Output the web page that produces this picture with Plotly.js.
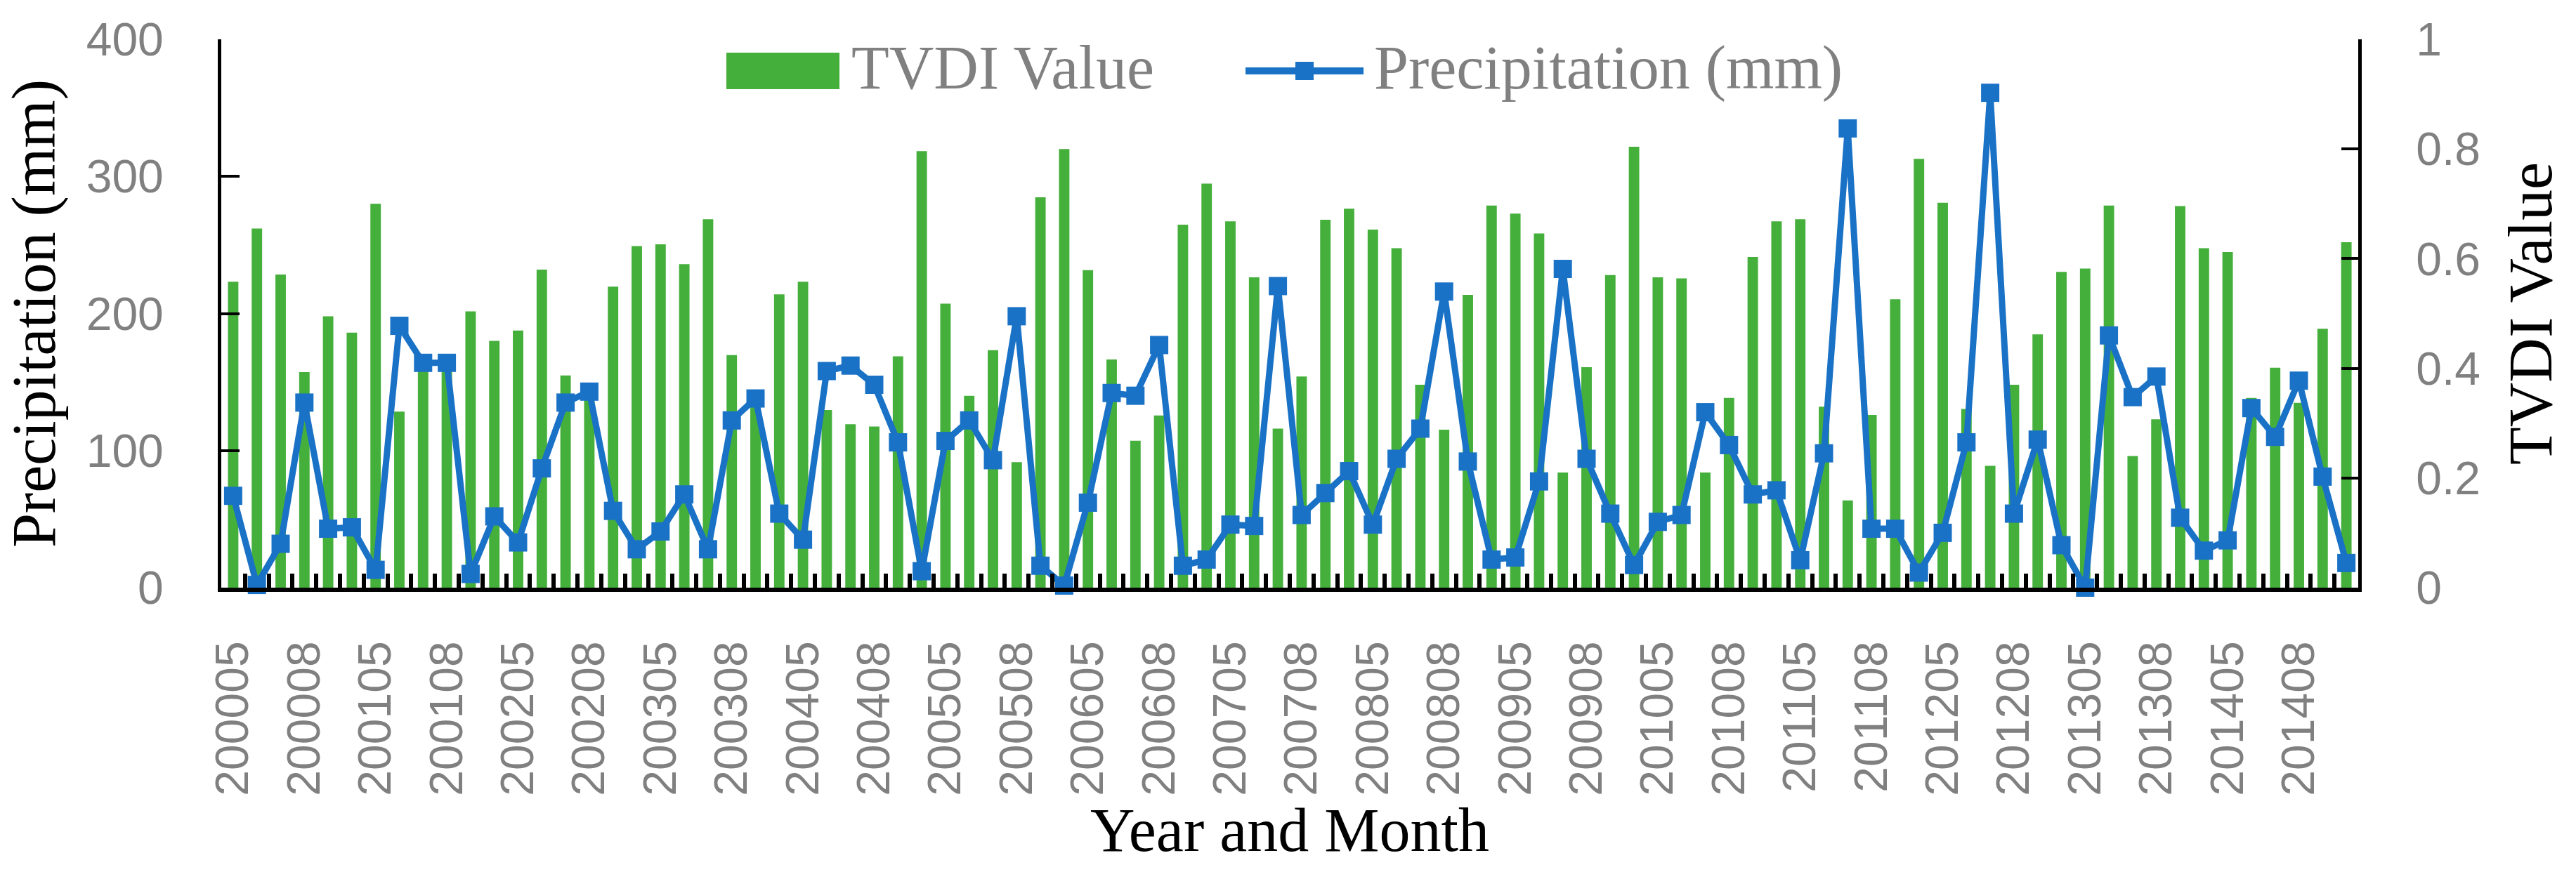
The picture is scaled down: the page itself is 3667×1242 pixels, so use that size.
<!DOCTYPE html>
<html>
<head>
<meta charset="utf-8">
<script src="https://cdn.plot.ly/plotly-3.0.1.min.js"></script>
<style>
html,body{margin:0;padding:0;background:#ffffff;}
#chart{width:3667px;height:1242px;}
</style>
</head>
<body>
<div id="chart"></div>
<script>
// ---- Data ----
const categories = [
  "200005","200006","200007","200008","200009","200010",
  "200105","200106","200107","200108","200109","200110",
  "200205","200206","200207","200208","200209","200210",
  "200305","200306","200307","200308","200309","200310",
  "200405","200406","200407","200408","200409","200410",
  "200505","200506","200507","200508","200509","200510",
  "200605","200606","200607","200608","200609","200610",
  "200705","200706","200707","200708","200709","200710",
  "200805","200806","200807","200808","200809","200810",
  "200905","200906","200907","200908","200909","200910",
  "201005","201006","201007","201008","201009","201010",
  "201105","201106","201107","201108","201109","201110",
  "201205","201206","201207","201208","201209","201210",
  "201305","201306","201307","201308","201309","201310",
  "201405","201406","201407","201408","201409","201410"
];

const tickLabels = [
  "200005","200008","200105","200108","200205","200208",
  "200305","200308","200405","200408","200505","200508",
  "200605","200608","200705","200708","200805","200808",
  "200905","200908","201005","201008","201105","201108",
  "201205","201208","201305","201308","201405","201408"
];

const tvdiValues = [
  0.558,0.655,0.571,0.393,0.495,0.465,
  0.700,0.321,0.410,0.410,0.504,0.450,
  0.469,0.580,0.387,0.360,0.549,0.623,
  0.626,0.590,0.672,0.424,0.345,0.535,
  0.558,0.324,0.298,0.294,0.422,0.796,
  0.518,0.350,0.433,0.229,0.712,0.800,
  0.579,0.416,0.268,0.314,0.662,0.737,
  0.668,0.566,0.290,0.385,0.671,0.691,
  0.653,0.619,0.370,0.288,0.534,0.697,
  0.682,0.646,0.210,0.402,0.570,0.804,
  0.566,0.564,0.210,0.346,0.603,0.668,
  0.672,0.330,0.159,0.315,0.526,0.782,
  0.702,0.326,0.222,0.370,0.462,0.576,
  0.582,0.697,0.240,0.307,0.696,0.619,
  0.612,0.346,0.401,0.337,0.472,0.630
];

const precipitation = [
  67,2,32,135,43,44,
  13,191,164,164,10,52,
  33,87,135,143,56,28,
  41,68,28,122,138,54,
  35,158,162,148,106,12,
  107,122,93,198,16,1.5,
  62,142,140,177,16,20.5,
  46,45,220,53,69,85,
  46,94,116,216,92,20.5,
  22,77.5,232.5,94,54,16.5,
  48,53,128,104,68,71,
  20,98,335,43,43,11,
  40,106,361,54,108,31,
  0,184,139,154,51,27,
  34.5,131,110,151,81,18
];

const precipTicks = [0,100,200,300,400];
const tvdiTicks = [0,0.2,0.4,0.6,0.8,1];
const tvdiTickText = ["0","0.2","0.4","0.6","0.8","1"];

// ---- Styling ----
const GREEN = "#45AF3B";
const BLUE = "#1A72C6";
const GRAY = "#808080";
const SANS = "Liberation Sans, Arial, sans-serif";
const SERIF = "Liberation Serif, Times New Roman, serif";

const W = 3667, H = 1242, ML = 315, MR = 310, MT = 56, MB = 405;
const PW = W - ML - MR, PH = H - MT - MB;
const px = x => (x - ML) / PW;
const py = y => (H - MB - y) / PH;

const xTickText = categories.map(c => tickLabels.includes(c) ? c : "");

const traces = [
  {
    type: "bar",
    name: "TVDI Value",
    x: categories,
    y: tvdiValues,
    yaxis: "y",
    marker: {color: GREEN, line: {width: 0}},
    hoverinfo: "x+y"
  },
  {
    type: "scatter",
    mode: "lines+markers",
    name: "Precipitation (mm)",
    x: categories,
    y: precipitation,
    yaxis: "y2",
    line: {color: BLUE, width: 9},
    marker: {symbol: "square", size: 26, color: BLUE, line: {width: 0}},
    cliponaxis: false
  }
];

const layout = {
  width: W,
  height: H,
  margin: {l: ML, r: MR, t: MT, b: MB, pad: 0},
  paper_bgcolor: "#ffffff",
  plot_bgcolor: "#ffffff",
  showlegend: false,
  bargap: 0.56,
  font: {family: SANS, color: GRAY},
  xaxis: {
    type: "category",
    range: [-0.5, categories.length - 0.5],
    showline: true, linecolor: "#000", linewidth: 6,
    ticks: "inside", ticklen: 20, tickwidth: 6, tickcolor: "#000",
    tickson: "boundaries",
    tickmode: "array", tickvals: categories, ticktext: xTickText,
    tickangle: -90,
    tickfont: {family: SANS, size: 66, color: GRAY},
    ticklabelstandoff: 44,
    showgrid: false, zeroline: false, automargin: false,
    title: {text: "Year and Month", font: {family: SERIF, size: 88, color: "#000"}, standoff: 0}
  },
  yaxis: {
    range: [0, 1],
    side: "right",
    tickmode: "array", tickvals: tvdiTicks, ticktext: tvdiTickText,
    ticks: "inside", ticklen: 24, tickwidth: 4, tickcolor: "#000",
    showline: true, linecolor: "#000", linewidth: 5,
    showgrid: false, zeroline: false, automargin: false,
    tickfont: {family: SANS, size: 66, color: GRAY},
    ticklabelstandoff: 64,
    title: {text: "TVDI Value", font: {family: SERIF, size: 88, color: "#000"}, standoff: 42}
  },
  yaxis2: {
    range: [0, 400],
    overlaying: "y",
    side: "left",
    tickmode: "array", tickvals: precipTicks,
    ticks: "inside", ticklen: 26, tickwidth: 4, tickcolor: "#000",
    showline: true, linecolor: "#000", linewidth: 5,
    showgrid: false, zeroline: false, automargin: false,
    tickfont: {family: SANS, size: 66, color: GRAY},
    ticklabelstandoff: 64,
    title: {text: "Precipitation (mm)", font: {family: SERIF, size: 88, color: "#000"}, standoff: 16}
  },
  shapes: [
    {type: "rect", xref: "paper", yref: "paper",
     x0: px(1034), x1: px(1195), y0: py(127), y1: py(75),
     fillcolor: GREEN, line: {width: 0}},
    {type: "line", xref: "paper", yref: "paper",
     x0: px(1773), x1: px(1941), y0: py(101), y1: py(101),
     line: {color: BLUE, width: 10}},
    {type: "rect", xref: "paper", yref: "paper",
     x0: px(1844), x1: px(1870), y0: py(114), y1: py(88),
     fillcolor: BLUE, line: {width: 0}}
  ],
  annotations: [
    {xref: "paper", yref: "paper", x: px(1210), y: py(96),
     xanchor: "left", yanchor: "middle", showarrow: false,
     text: "TVDI Value", font: {family: SERIF, size: 88, color: GRAY}},
    {xref: "paper", yref: "paper", x: px(1954), y: py(96),
     xanchor: "left", yanchor: "middle", showarrow: false,
     text: "Precipitation (mm)", font: {family: SERIF, size: 88, color: GRAY}}
  ]
};

Plotly.newPlot("chart", traces, layout, {staticPlot: true, displayModeBar: false});
</script>
</body>
</html>
